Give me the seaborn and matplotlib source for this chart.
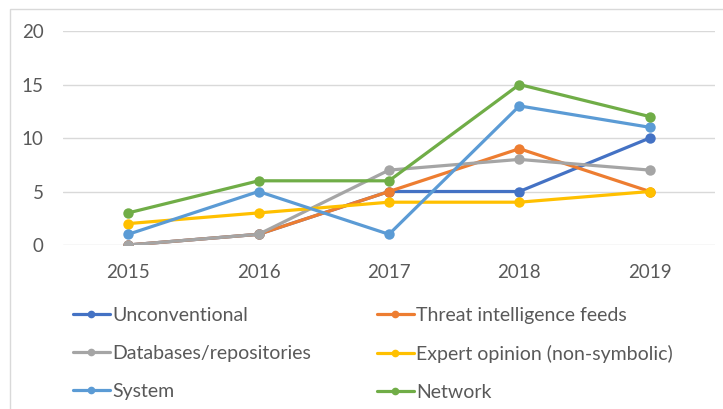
import pandas as pd
import numpy as np
import matplotlib.pyplot as plt
import seaborn as sns
from matplotlib.patches import Rectangle

years = ["2015", "2016", "2017", "2018", "2019"]
unconventional = [0, 1, 5, 5, 10]
threat_feeds = [0, 1, 5, 9, 5]
databases = [0, 1, 7, 8, 7]
expert_opinion = [2, 3, 4, 4, 5]
system = [1, 5, 1, 13, 11]
network = [3, 6, 6, 15, 12]

series_names = ["Unconventional", "Threat intelligence feeds", "Databases/repositories",
                "Expert opinion (non-symbolic)", "System", "Network"]
series_values = [unconventional, threat_feeds, databases, expert_opinion, system, network]
colors = ["#4472C4", "#ED7D31", "#A5A5A5", "#FFC000", "#5B9BD5", "#70AD47"]

rows = []
for name, vals in zip(series_names, series_values):
    for i, v in enumerate(vals):
        rows.append({"pos": i, "year": years[i], "value": v, "series": name})
df = pd.DataFrame(rows)

sns.set_style("white")
plt.rcParams["font.family"] = ["Lato", "DejaVu Sans"]

fig = plt.figure(figsize=(7.23, 4.09), dpi=100)
ax = fig.add_axes([63 / 723, 1 - 245 / 409, 652 / 723, 214 / 409])

sns.lineplot(data=df, x="pos", y="value", hue="series", hue_order=series_names,
             palette=colors, marker="o", markersize=7.5, markeredgewidth=0,
             linewidth=2.3, ax=ax, legend=False)

ax.set_xlim(-0.5, 4.5)
ax.set_ylim(0, 20)
ax.set_xticks(range(len(years)))
ax.set_xticklabels(years)
ax.set_yticks([0, 5, 10, 15, 20])
ax.set_xlabel("")
ax.set_ylabel("")
ax.grid(axis="y", color="#D9D9D9", linewidth=1)
ax.set_axisbelow(True)
for s in ax.spines.values():
    s.set_visible(False)
ax.tick_params(axis="both", length=0, labelsize=13.5, labelcolor="#595959")
ax.tick_params(axis="y", pad=14)
ax.tick_params(axis="x", pad=14)

# legend: two columns placed like the excel legend
handles = [plt.Line2D([], [], color=c, marker="o", markersize=4.5, linewidth=2.3) for c in colors]
col_x = [73 / 723, 377 / 723]
for k, idx in enumerate([[0, 2, 4], [1, 3, 5]]):
    leg = fig.legend([handles[i] for i in idx], [series_names[i] for i in idx],
                     loc="upper left", bbox_to_anchor=(col_x[k], 1 - 307 / 409),
                     frameon=False, fontsize=14, handlelength=1.9, handletextpad=0.1,
                     labelspacing=1.07, borderpad=0, borderaxespad=0)
    for t in leg.get_texts():
        t.set_color("#595959")

# chart border
fig.patches.append(Rectangle((10 / 723, -0.1), 1.2, 1 - 9 / 409 + 0.1,
                             transform=fig.transFigure, fill=False,
                             edgecolor="#D9D9D9", linewidth=1))

fig.savefig("out.png", dpi=100)
